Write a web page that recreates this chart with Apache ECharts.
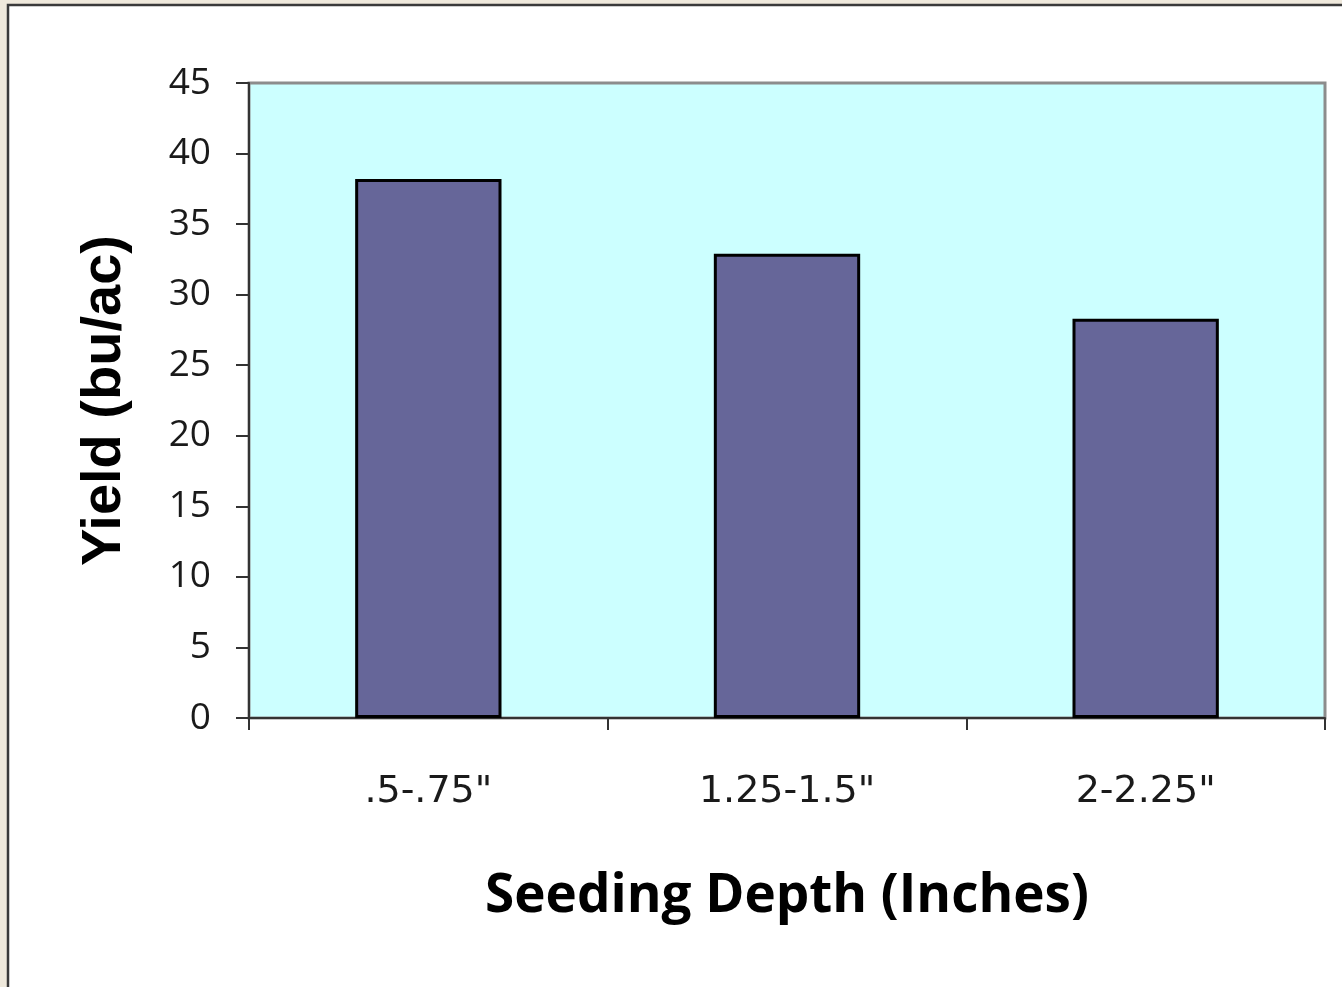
<!DOCTYPE html>
<html>
<head>
<meta charset="utf-8">
<style>
html,body{margin:0;padding:0;background:#efe9dc;}
#chart{width:1342px;height:987px;}
</style>
<script src="https://cdn.jsdelivr.net/npm/echarts@6/dist/echarts.min.js"></script>
</head>
<body>
<div id="chart"></div>
<script>
const categories = ['.5-.75"', '1.25-1.5"', '2-2.25"'];
const yieldValues = [38.2, 32.9, 28.3];
const yTitle = 'Yield (bu/ac)';
const xTitle = 'Seeding Depth (Inches)';

const chart = echarts.init(document.getElementById('chart'), null, {renderer: 'canvas'});
chart.setOption({
  backgroundColor: '#efe9dc',
  animation: false,
  graphic: [{
    type: 'rect', z: -10, silent: true,
    shape: {x: 8, y: 5, width: 1400, height: 1100},
    style: {fill: '#ffffff', stroke: '#3a3a3a', lineWidth: 2.5}
  }],
  grid: {
    left: 249, right: 17, top: 83, bottom: 269,
    show: true, backgroundColor: '#ccffff', borderColor: '#8c8c8c', borderWidth: 3
  },
  xAxis: {
    type: 'category',
    data: categories,
    axisLine: {show: true, lineStyle: {color: '#333', width: 2}},
    axisTick: {show: true, length: 12, lineStyle: {color: '#333', width: 2}},
    axisLabel: {color: '#1a1a1a', fontSize: 38, fontFamily: 'DejaVu Sans', margin: 55},
    name: xTitle,
    nameLocation: 'middle',
    nameGap: 152,
    nameTextStyle: {color: '#000', fontSize: 53, fontWeight: 'bold', fontFamily: 'Open Sans'}
  },
  yAxis: {
    type: 'value',
    min: 0, max: 45, interval: 5,
    splitLine: {show: false},
    axisLine: {show: true, lineStyle: {color: '#333', width: 2}},
    axisTick: {show: true, length: 13, lineStyle: {color: '#333', width: 2}},
    axisLabel: {color: '#1a1a1a', fontSize: 37, fontFamily: 'Open Sans', margin: 38, padding: [5, 0, 0, 0]},
    name: yTitle,
    nameLocation: 'middle',
    nameGap: 116,
    nameRotate: 90,
    nameTextStyle: {color: '#000', fontSize: 56, fontWeight: 'bold', fontFamily: 'Liberation Sans'}
  },
  series: [{
    type: 'bar',
    data: yieldValues,
    barWidth: '40.8%',
    itemStyle: {color: '#666699', borderColor: '#000', borderWidth: 3}
  }]
});
</script>
</body>
</html>
